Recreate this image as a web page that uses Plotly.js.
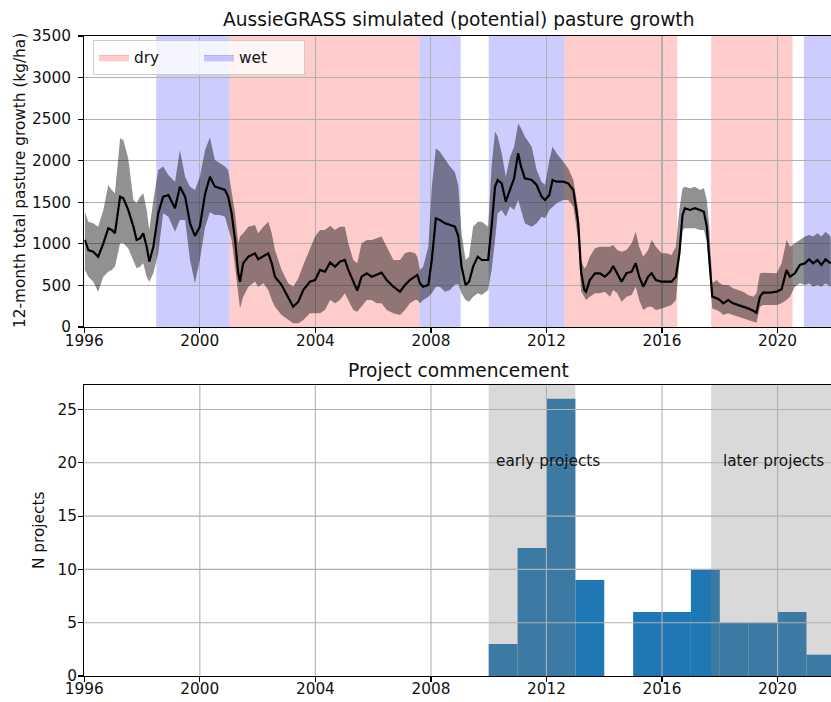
<!DOCTYPE html>
<html>
<head>
<meta charset="utf-8">
<script src="https://cdn.plot.ly/plotly-3.0.1.min.js"></script>
<style>
  html, body { margin: 0; padding: 0; background: #fff; }
  #chart { width: 831px; height: 702px; }
</style>
</head>
<body>
<div id="chart"></div>
<script>
// ---- 12-month total pasture growth (kg/ha), AussieGRASS simulation ----
const years = [
  1996.02, 1996.14, 1996.31, 1996.48, 1996.66, 1996.83, 1996.95, 1997.06, 1997.24, 1997.35,
  1997.52, 1997.70, 1997.81, 1997.93, 1998.04, 1998.16, 1998.25, 1998.39, 1998.56, 1998.73,
  1998.91, 1999.14, 1999.31, 1999.49, 1999.66, 1999.83, 2000.00, 2000.18, 2000.35, 2000.52,
  2000.70, 2000.87, 2000.98, 2001.10, 2001.22, 2001.33, 2001.39, 2001.50, 2001.68, 2001.91,
  2002.02, 2002.20, 2002.37, 2002.49, 2002.60, 2002.83, 2003.06, 2003.23, 2003.41, 2003.58,
  2003.81, 2003.99, 2004.16, 2004.33, 2004.51, 2004.68, 2004.85, 2005.02, 2005.14, 2005.31,
  2005.45, 2005.60, 2005.78, 2005.95, 2006.12, 2006.29, 2006.47, 2006.70, 2006.93, 2007.10,
  2007.27, 2007.45, 2007.53, 2007.62, 2007.73, 2007.91, 2008.03, 2008.17, 2008.31, 2008.49,
  2008.66, 2008.83, 2008.95, 2009.06, 2009.20, 2009.32, 2009.46, 2009.62, 2009.76, 2009.98,
  2010.10, 2010.22, 2010.31, 2010.45, 2010.59, 2010.74, 2010.88, 2011.02, 2011.12, 2011.25,
  2011.49, 2011.66, 2011.83, 2011.95, 2012.10, 2012.21, 2012.35, 2012.58, 2012.75, 2012.93,
  2013.10, 2013.20, 2013.31, 2013.37, 2013.50, 2013.68, 2013.85, 2014.02, 2014.20, 2014.31,
  2014.45, 2014.60, 2014.77, 2014.95, 2015.09, 2015.21, 2015.35, 2015.52, 2015.64, 2015.79,
  2015.99, 2016.16, 2016.33, 2016.48, 2016.60, 2016.71, 2016.79, 2016.97, 2017.14, 2017.31,
  2017.45, 2017.55, 2017.64, 2017.74, 2017.89, 2018.00, 2018.12, 2018.29, 2018.46, 2018.64,
  2018.81, 2018.98, 2019.16, 2019.27, 2019.39, 2019.50, 2019.73, 2019.97, 2020.14, 2020.31,
  2020.43, 2020.60, 2020.77, 2020.95, 2021.09, 2021.23, 2021.38, 2021.52, 2021.66, 2021.84
];
const growthMid = [
  1047, 926, 906, 846, 1007, 1187, 1167, 1127, 1568, 1548,
  1408, 1207, 1047, 1067, 1127, 966, 786, 966, 1368, 1568,
  1588, 1428, 1688, 1568, 1247, 1095, 1207, 1600, 1808, 1688,
  1668, 1648, 1568, 1368, 1047, 646, 545, 766, 846, 886,
  814, 846, 886, 766, 605, 505, 365, 244, 304, 445,
  545, 565, 686, 665, 776, 726, 786, 806, 686, 545,
  437, 605, 646, 605, 626, 653, 565, 485, 425, 505,
  565, 605, 626, 526, 485, 505, 806, 1307, 1287, 1247,
  1227, 1207, 1090, 726, 505, 545, 726, 846, 806, 806,
  1207, 1688, 1768, 1728, 1508, 1648, 1788, 2090, 1929, 1788,
  1768, 1708, 1568, 1528, 1588, 1768, 1748, 1748, 1728, 1648,
  1247, 660, 445, 425, 565, 646, 646, 605, 665, 734,
  646, 545, 646, 665, 766, 605, 485, 605, 646, 565,
  545, 545, 545, 605, 886, 1347, 1428, 1408, 1428, 1408,
  1387, 1207, 806, 365, 345, 325, 285, 325, 285, 265,
  237, 224, 196, 172, 365, 413, 413, 425, 453, 686,
  605, 646, 746, 766, 814, 766, 806, 746, 814, 766
];
const growthUpper = [
  1387, 1267, 1247, 1207, 1408, 1708, 1648, 1608, 2270, 2250,
  2029, 1528, 1488, 1568, 1608, 1408, 1167, 1528, 1889, 1929,
  1828, 1748, 2129, 1808, 1688, 1648, 1808, 2130, 2280, 2009,
  1969, 1929, 1889, 1648, 1368, 1007, 1087, 1127, 1207, 1227,
  1127, 1207, 1267, 1127, 926, 686, 526, 485, 586, 746,
  947, 1087, 1167, 1167, 1217, 1167, 1207, 1207, 1007, 806,
  766, 1007, 1047, 1047, 1067, 1087, 966, 806, 806, 886,
  906, 886, 846, 686, 726, 966, 1688, 2149, 2109, 2009,
  1929, 1860, 1700, 1127, 806, 846, 1207, 1267, 1267, 1207,
  1929, 2350, 2290, 2090, 1808, 2049, 2169, 2450, 2390, 2290,
  2169, 1889, 1748, 1708, 2009, 2169, 2090, 1989, 1909, 1768,
  1408, 800, 706, 726, 846, 947, 966, 966, 966, 986,
  926, 906, 926, 1007, 1147, 966, 846, 926, 1047, 966,
  886, 886, 866, 966, 1408, 1668, 1688, 1668, 1688, 1648,
  1668, 1528, 1207, 526, 565, 526, 505, 505, 465, 445,
  425, 385, 365, 405, 646, 653, 646, 646, 766, 1047,
  966, 1007, 1047, 1087, 1107, 1087, 1127, 1087, 1147, 1087
];
const growthLower = [
  686, 605, 545, 425, 605, 665, 686, 726, 1007, 1007,
  947, 806, 706, 726, 766, 605, 545, 646, 886, 1368,
  1327, 1147, 1287, 1287, 806, 526, 806, 1200, 1380, 1347,
  1347, 1327, 1207, 1047, 726, 365, 224, 365, 485, 545,
  485, 526, 445, 325, 244, 144, 84, 44, 44, 84,
  164, 164, 164, 204, 325, 285, 325, 405, 325, 204,
  184, 244, 325, 325, 285, 285, 204, 164, 144, 204,
  285, 325, 325, 285, 325, 365, 405, 485, 485, 425,
  445, 510, 515, 405, 325, 304, 365, 405, 385, 445,
  686, 1047, 1368, 1408, 1327, 1448, 1408, 1528, 1408, 1247,
  1207, 1247, 1327, 1307, 1408, 1448, 1488, 1528, 1528, 1448,
  1047, 430, 350, 325, 365, 405, 405, 425, 365, 445,
  405, 304, 365, 385, 485, 325, 204, 244, 244, 204,
  224, 244, 265, 325, 726, 1167, 1187, 1187, 1187, 1167,
  1167, 1030, 646, 224, 204, 184, 144, 164, 144, 124,
  104, 84, 64, 52, 244, 265, 265, 265, 285, 325,
  365, 485, 526, 505, 526, 485, 505, 485, 526, 485
];

// Seasonal condition periods
const dryStart = [2001.03, 2012.62, 2017.70];
const dryEnd   = [2007.60, 2016.53, 2020.52];
const wetStart = [1998.49, 2007.60, 2010.00, 2020.91];
const wetEnd   = [2001.03, 2009.03, 2012.62, 2023.00];

// ---- Project commencement histogram (1-year bins) ----
const binStart  = [2010, 2011, 2012, 2013, 2014, 2015, 2016, 2017, 2018, 2019, 2020, 2021];
const nProjects = [3, 12, 26, 9, 0, 6, 6, 10, 5, 5, 6, 2];
const periodStart = [2010.0, 2017.7];
const periodEnd   = [2013.0, 2023.0];
const periodNames = ['early projects', 'later projects'];

// Tick values
const yearTicks   = [1996, 2000, 2004, 2008, 2012, 2016, 2020];
const growthTicks = [0, 500, 1000, 1500, 2000, 2500, 3000, 3500];
const countTicks  = [0, 5, 10, 15, 20, 25];

const FONT = 'DejaVu Sans, sans-serif';
const INK = '#111';
const GRID = '#b0b0b0';
const X_RANGE = [1996, 2021.85];

const traces = [
  // uncertainty band: lower edge then upper edge filled down to it
  { x: years, y: growthLower, type: 'scatter', mode: 'lines',
    line: { width: 0 }, hoverinfo: 'skip', showlegend: false, xaxis: 'x', yaxis: 'y' },
  { x: years, y: growthUpper, type: 'scatter', mode: 'lines', fill: 'tonexty',
    fillcolor: 'rgba(0,0,0,0.43)', line: { width: 0 }, showlegend: false, xaxis: 'x', yaxis: 'y' },
  { x: years, y: growthMid, type: 'scatter', mode: 'lines',
    line: { color: '#000', width: 2.2 }, showlegend: false, xaxis: 'x', yaxis: 'y' },
  // legend keys for the shaded periods
  { x: [null], y: [null], type: 'scatter', mode: 'lines', fill: 'toself', name: 'dry',
    fillcolor: 'rgba(255,0,0,0.2)', line: { width: 1, color: 'rgba(255,0,0,0.2)' }, xaxis: 'x', yaxis: 'y' },
  { x: [null], y: [null], type: 'scatter', mode: 'lines', fill: 'toself', name: 'wet',
    fillcolor: 'rgba(0,0,255,0.2)', line: { width: 1, color: 'rgba(0,0,255,0.2)' }, xaxis: 'x', yaxis: 'y' },
  // histogram bars
  { x: binStart, y: nProjects, type: 'bar', offset: 0, width: 1,
    marker: { color: '#1f77b4', line: { width: 0 } }, showlegend: false, xaxis: 'x2', yaxis: 'y2' }
];

const shapes = [];
dryStart.forEach((s, i) => shapes.push({
  type: 'rect', xref: 'x', yref: 'y domain', x0: s, x1: dryEnd[i], y0: 0, y1: 1,
  fillcolor: 'rgba(255,0,0,0.2)', line: { width: 0 }, layer: 'below'
}));
wetStart.forEach((s, i) => shapes.push({
  type: 'rect', xref: 'x', yref: 'y domain', x0: s, x1: wetEnd[i], y0: 0, y1: 1,
  fillcolor: 'rgba(0,0,255,0.2)', line: { width: 0 }, layer: 'below'
}));
// grey project periods sit over the bars
periodStart.forEach((s, i) => shapes.push({
  type: 'rect', xref: 'x2', yref: 'y2 domain', x0: s, x1: periodEnd[i], y0: 0, y1: 1,
  fillcolor: 'rgba(128,128,128,0.3)', line: { width: 0 }, layer: 'above'
}));
// histogram grid drawn on top of the bars
yearTicks.slice(1).forEach(t => shapes.push({
  type: 'line', xref: 'x2', yref: 'y2 domain', x0: t, x1: t, y0: 0, y1: 1,
  line: { color: GRID, width: 1.1 }, layer: 'above'
}));
countTicks.slice(1).forEach(t => shapes.push({
  type: 'line', xref: 'x2 domain', yref: 'y2', x0: 0, x1: 1, y0: t, y1: t,
  line: { color: GRID, width: 1.1 }, layer: 'above'
}));

const axisBase = {
  showline: true, mirror: true, linecolor: '#000', linewidth: 1.2,
  ticks: 'outside', ticklen: 5, tickwidth: 1.2, tickcolor: '#000',
  tickfont: { family: FONT, size: 15.3, color: INK },
  zeroline: false, fixedrange: true
};

const annotations = [
  { text: 'AussieGRASS simulated (potential) pasture growth', xref: 'paper', yref: 'paper',
    x: 458 / 831, y: 1 - 19 / 702, xanchor: 'center', yanchor: 'middle', showarrow: false,
    font: { family: FONT, size: 18.6, color: INK } },
  { text: 'Project commencement', xref: 'paper', yref: 'paper',
    x: 458 / 831, y: 1 - 370 / 702, xanchor: 'center', yanchor: 'middle', showarrow: false,
    font: { family: FONT, size: 18.6, color: INK } },
  { text: '12-month total pasture growth (kg/ha)', xref: 'paper', yref: 'paper', textangle: -90,
    x: 20 / 831, y: 1 - 181 / 702, xanchor: 'center', yanchor: 'middle', showarrow: false,
    font: { family: FONT, size: 15.3, color: INK } },
  { text: 'N projects', xref: 'paper', yref: 'paper', textangle: -90,
    x: 39 / 831, y: 1 - 531 / 702, xanchor: 'center', yanchor: 'middle', showarrow: false,
    font: { family: FONT, size: 15.3, color: INK } },
  { text: periodNames[0], xref: 'x2', yref: 'y2', x: 2010.17, y: 20.2,
    xanchor: 'left', yanchor: 'middle', showarrow: false,
    font: { family: FONT, size: 15.3, color: INK } },
  { text: periodNames[1], xref: 'x2', yref: 'y2', x: 2018.03, y: 20.2,
    xanchor: 'left', yanchor: 'middle', showarrow: false,
    font: { family: FONT, size: 15.3, color: INK } }
];

const layout = {
  width: 831, height: 702,
  margin: { l: 0, r: 0, t: 0, b: 0 },
  paper_bgcolor: '#fff', plot_bgcolor: '#fff',
  font: { family: FONT, size: 15.3, color: INK },
  showlegend: true,
  legend: {
    orientation: 'h', x: 93 / 831, y: 1 - 40 / 702, xanchor: 'left', yanchor: 'top',
    bgcolor: 'rgba(255,255,255,0.8)', bordercolor: '#cccccc', borderwidth: 1,
    font: { family: FONT, size: 15.3, color: INK }, entrywidth: 60, entrywidthmode: 'pixels',
    traceorder: 'normal'
  },
  xaxis: Object.assign({}, axisBase, {
    domain: [84.3 / 831, 1], range: X_RANGE, anchor: 'y',
    tickvals: yearTicks, showgrid: true, gridcolor: GRID, gridwidth: 1.1, ticklabelstandoff: -6
  }),
  yaxis: Object.assign({}, axisBase, {
    domain: [1 - 327 / 702, 1 - 36 / 702], range: [0, 3500], anchor: 'x',
    tickvals: growthTicks, showgrid: true, gridcolor: GRID, gridwidth: 1.1, ticklabelstandoff: 4
  }),
  xaxis2: Object.assign({}, axisBase, {
    domain: [84.3 / 831, 1], range: X_RANGE, anchor: 'y2',
    tickvals: yearTicks, showgrid: false, layer: 'above traces', ticklabelstandoff: -7
  }),
  yaxis2: Object.assign({}, axisBase, {
    domain: [1 - 676 / 702, 1 - 385 / 702], range: [0, 27.3], anchor: 'x2',
    tickvals: countTicks, showgrid: false, layer: 'above traces', ticklabelstandoff: -2
  }),
  shapes: shapes,
  annotations: annotations
};

Plotly.newPlot('chart', traces, layout, { staticPlot: true, displayModeBar: false });
</script>
</body>
</html>
